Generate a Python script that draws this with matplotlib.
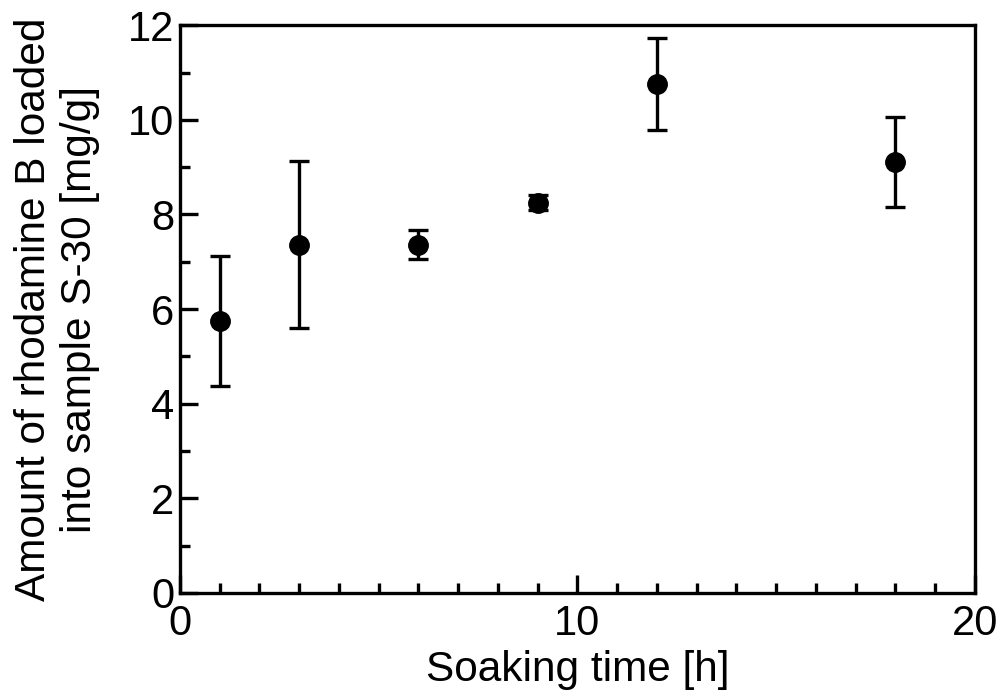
import matplotlib
matplotlib.use("Agg")
import matplotlib.pyplot as plt
from matplotlib.ticker import MultipleLocator

plt.rcParams['font.family'] = ['Liberation Sans', 'DejaVu Sans']

# soaking time [h], loaded amount [mg/g], error
time_h = [1, 3, 6, 9, 12, 18]
amount = [5.75, 7.36, 7.36, 8.25, 10.76, 9.10]
err = [1.37, 1.76, 0.31, 0.16, 0.97, 0.95]

fig = plt.figure(figsize=(10.05, 7.0), dpi=100)
ax = fig.add_axes([0.179, 0.153, 0.791, 0.811])

ax.errorbar(time_h, amount, yerr=err, fmt='o', color='black', ms=14,
            elinewidth=2.4, capsize=7, capthick=2.4)

ax.set_xlim(0, 20)
ax.set_ylim(0, 12)
ax.xaxis.set_major_locator(MultipleLocator(10))
ax.xaxis.set_minor_locator(MultipleLocator(1))
ax.yaxis.set_major_locator(MultipleLocator(2))
ax.yaxis.set_minor_locator(MultipleLocator(1))

for s in ax.spines.values():
    s.set_linewidth(2.4)
ax.tick_params(which='both', direction='in', top=False, right=False, width=2.4,
               labelsize=30)
ax.tick_params(which='major', length=13)
ax.tick_params(which='minor', length=7)
ax.tick_params(axis='x', pad=8)
ax.tick_params(axis='y', pad=4)

ax.set_xlabel('Soaking time [h]', fontsize=30.5, labelpad=4)
ax.set_ylabel('Amount of rhodamine B loaded\ninto sample S-30 [mg/g]',
              fontsize=30.5, labelpad=20, linespacing=1.2)

fig.savefig('out.png', dpi=100)
